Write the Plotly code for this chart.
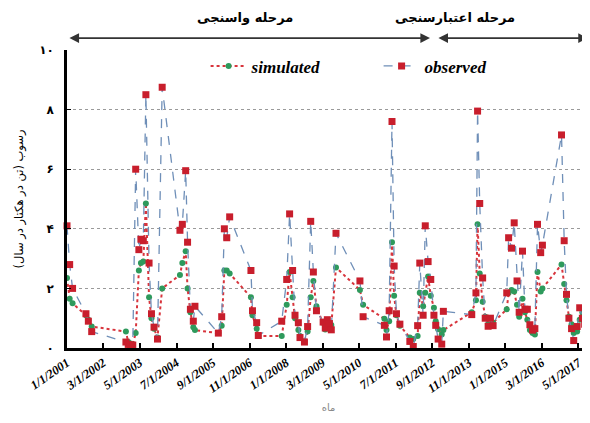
import plotly.graph_objects as go

# ---- data ----
dates = [
    "2001-01-01", "2001-02-01", "2001-03-07", "2001-08-10", "2001-09-07", "2001-10-16",
    "2002-11-19", "2002-12-16", "2003-01-10", "2003-02-07", "2003-03-13", "2003-04-19",
    "2003-05-13", "2003-06-10", "2003-07-10", "2003-08-16", "2003-09-13", "2003-10-13",
    "2003-11-22", "2004-01-16", "2004-08-10", "2004-09-07", "2004-10-16", "2004-11-07",
    "2004-12-10", "2005-01-13", "2005-02-01", "2005-11-01", "2005-12-10", "2006-01-10",
    "2006-02-07", "2006-03-13", "2006-11-16", "2006-12-04", "2007-01-22", "2007-02-10",
    "2007-11-10", "2008-01-07", "2008-02-10", "2008-03-16", "2008-04-13", "2008-05-22",
    "2008-06-10", "2008-08-01", "2008-09-07", "2008-10-13", "2008-11-13", "2008-12-19",
    "2009-03-07", "2009-04-01", "2009-04-25", "2009-05-19", "2009-06-10", "2009-08-04",
    "2010-05-10", "2010-06-16", "2011-02-19", "2011-03-16", "2011-04-16", "2011-05-19",
    "2011-06-13", "2011-07-10", "2011-08-19", "2011-12-13", "2012-01-22", "2012-03-13",
    "2012-04-07", "2012-05-16", "2012-06-10", "2012-07-13", "2012-08-13", "2012-09-19",
    "2012-10-10", "2012-11-07", "2012-12-19", "2013-01-07", "2013-12-04", "2014-01-22",
    "2014-02-10", "2014-03-07", "2014-04-10", "2014-05-10", "2014-06-13", "2014-07-10",
    "2014-08-10", "2015-01-16", "2015-02-07", "2015-03-13", "2015-04-13", "2015-05-16",
    "2015-06-10", "2015-07-19", "2015-08-16", "2015-09-13", "2015-10-13", "2015-11-13",
    "2015-12-10", "2016-01-10", "2016-02-16", "2016-03-07", "2016-10-16", "2016-11-16",
    "2016-12-13", "2017-01-10", "2017-02-10", "2017-03-07", "2017-04-16", "2017-05-16",
    "2017-06-16", "2017-07-13", "2017-08-22",
]

observed = [
    4.1, 2.8, 2.0, 1.15, 0.9, 0.55,
    0.2, 0.12, 0.1, 0.1, 6.0, 3.3,
    3.65, 3.6, 8.5, 2.85, 1.15, 0.7,
    0.3, 8.75, 3.95, 4.15, 5.95, 3.55,
    1.3, 0.9, 1.4, 0.5, 1.05, 4.0,
    3.7, 4.4, 2.6, 1.25, 0.85, 0.42,
    0.9, 2.3, 4.5, 2.6, 1.1, 0.85,
    0.35, 0.2, 0.72, 4.25, 2.55, 1.25,
    0.87, 0.67, 0.95, 0.82, 0.61, 3.85,
    2.25, 1.05, 0.76, 0.37, 1.25, 7.6,
    2.75, 1.15, 0.8, 0.22, 0.05, 0.75,
    2.85, 1.1, 4.1, 2.9, 2.3, 1.1,
    0.76, 0.3, 0.13, 1.23, 1.12, 1.85,
    7.95, 4.85, 2.35, 1.0, 0.73, 1.0,
    0.75, 1.85, 3.7, 3.35, 4.2, 2.25,
    1.2, 3.25, 1.3, 1.3, 0.78, 0.6,
    0.65, 4.15, 3.2, 3.45, 7.15, 3.6,
    1.8, 1.0, 0.65, 0.25, 0.72, 1.35,
    1.0, 0.8, 2.7,
]

simulated = [
    2.35, 1.65, 1.5, 1.1, 0.95, 0.72,
    0.55, 0.2, 0.15, 0.12, 0.5, 2.6,
    2.85, 2.9, 4.85, 1.7, 1.0, 0.65,
    0.35, 2.0, 2.45, 2.85, 3.25, 2.0,
    1.2, 0.7, 0.6, 0.5, 0.75, 2.6,
    2.6, 2.5, 1.7, 1.1, 0.65, 0.4,
    0.4, 1.45, 2.55, 1.7, 1.0, 0.6,
    0.4, 0.22, 0.55, 1.7, 2.25, 1.4,
    0.85, 0.62, 0.7, 0.75, 0.77, 2.7,
    1.95, 1.45, 0.98, 0.6, 0.9, 3.55,
    1.75, 1.1, 0.75, 0.35, 0.3, 0.4,
    1.85, 1.4, 1.85, 2.4, 1.75, 1.35,
    0.9, 0.63, 0.45, 0.6, 1.2, 1.6,
    4.15, 2.5, 1.55, 1.05, 0.8, 0.8,
    0.85, 1.3, 1.85, 1.95, 1.9, 1.45,
    1.05, 1.65, 1.2, 0.95, 0.6, 0.5,
    0.45, 2.55, 1.9, 2.0, 2.8, 2.15,
    1.6, 1.05, 0.8, 0.5, 0.55, 0.95,
    1.2, 1.3, 1.95,
]

x_tick_dates = [
    "2001-01-01", "2002-03-01", "2003-05-01", "2004-07-01", "2005-09-01",
    "2006-11-01", "2008-01-01", "2009-03-01", "2010-05-01", "2011-07-01",
    "2012-09-01", "2013-11-01", "2015-01-01", "2016-03-01", "2017-05-01",
]
x_tick_labels = [
    "1/1/2001", "3/1/2002", "5/1/2003", "7/1/2004", "9/1/2005",
    "11/1/2006", "1/1/2008", "3/1/2009", "5/1/2010", "7/1/2011",
    "9/1/2012", "11/1/2013", "1/1/2015", "3/1/2016", "5/1/2017",
]
y_tick_values = [0, 2, 4, 6, 8, 10]
y_tick_labels = ["۰", "۲", "۴", "۶", "۸", "۱۰"]

calib_label = "مرحله واسنجی"
valid_label = "مرحله اعتبارسنجی"
y_title = "رسوب (تن در هکتار در سال)"
x_title = "ماه"

serif = "Liberation Serif"
arabic = "DejaVu Sans"

fig = go.Figure()

fig.add_trace(go.Scatter(
    x=dates, y=simulated, name="simulated", mode="lines+markers",
    line=dict(color="#d8343c", width=2, dash="dot"),
    marker=dict(color="#2e9a5c", size=6, symbol="circle"),
    cliponaxis=False,
))
fig.add_trace(go.Scatter(
    x=dates, y=observed, name="observed", mode="lines+markers",
    line=dict(color="#6f8fb8", width=1.3, dash="dash"),
    marker=dict(color="#c81e2c", size=7, symbol="square"),
    cliponaxis=False,
))

# page body adds an 8px offset, so the figure is 8px smaller and margins shifted
fig.update_layout(
    width=582, height=415,
    margin=dict(l=59, r=0, t=42, b=75, autoexpand=False),
    paper_bgcolor="white", plot_bgcolor="white",
    showlegend=True,
    legend=dict(
        orientation="h", x=0.265, y=0.945, xanchor="left", yanchor="middle",
        font=dict(family=serif, size=17, color="black", weight="bold", style="italic"),
        bgcolor="rgba(0,0,0,0)", entrywidth=122, entrywidthmode="pixels",
        itemwidth=36,
    ),
)

fig.update_xaxes(
    type="date",
    range=["2001-01-01", "2017-09-13"],
    tickvals=x_tick_dates, ticktext=x_tick_labels,
    tickangle=-35,
    tickfont=dict(family=serif, size=12.5, color="black", weight="bold", style="italic"),
    showline=True, linecolor="black", linewidth=2.5,
    ticks="inside", ticklen=5, tickcolor="black", tickwidth=1.5,
    showgrid=False, zeroline=False, automargin=False,
    title=dict(text=x_title, font=dict(family=arabic, size=10, color="#888888"), standoff=10),
)
fig.update_yaxes(
    range=[0, 10],
    tickvals=y_tick_values, ticktext=y_tick_labels,
    tickfont=dict(family=arabic, size=12, color="black", weight="bold"),
    ticklabelstandoff=8,
    showline=True, linecolor="black", linewidth=2.5,
    ticks="inside", ticklen=4, tickcolor="black",
    showgrid=True, gridcolor="#9a9a9a", griddash="dot", gridwidth=1,
    zeroline=False, automargin=False,
    title=dict(text=y_title, font=dict(family=arabic, size=11.5, color="black"), standoff=14),
)

# phase labels
fig.add_annotation(text=calib_label, xref="paper", yref="paper", x=0.34, y=1.14,
                   showarrow=False, font=dict(family=arabic, size=13, color="black", weight="bold"))
fig.add_annotation(text=valid_label, xref="paper", yref="paper", x=0.86, y=1.14,
                   showarrow=False, font=dict(family=arabic, size=13, color="black", weight="bold"))

# phase arrows (double-headed)
for start, end in [("2001-01-12", "2012-08-04"), ("2012-10-24", "2017-08-19")]:
    fig.add_annotation(
        x=end, y=1.04, xref="x", yref="paper",
        ax=start, ay=0, axref="x", ayref="pixel",
        text="", showarrow=True, arrowhead=2, arrowside="end+start",
        arrowsize=1.2, arrowwidth=1.6, arrowcolor="#333333",
    )

fig.write_html("out.html")
